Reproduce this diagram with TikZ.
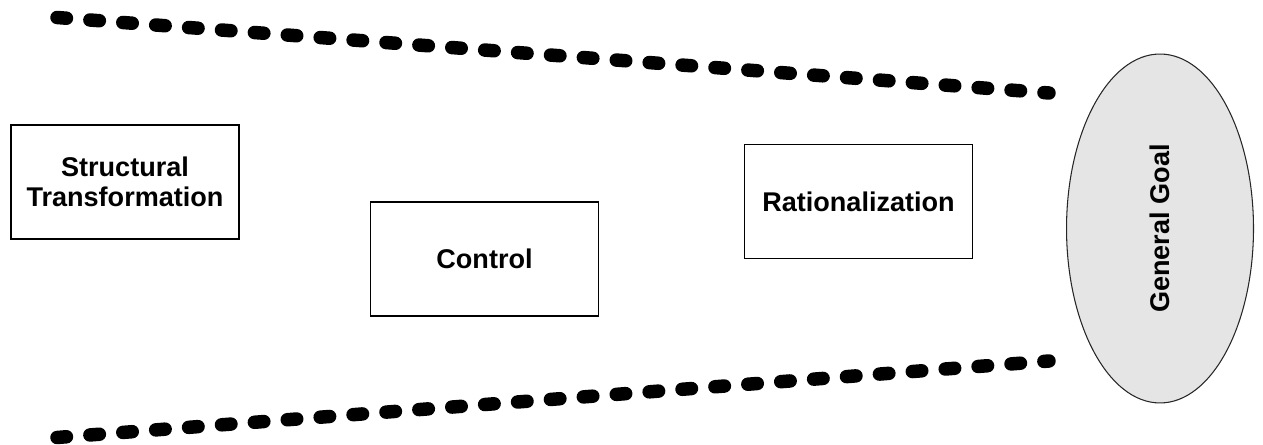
\documentclass[tikz,border=0pt]{standalone}
\usepackage{fontspec}
\setsansfont{Liberation Sans}
\usetikzlibrary{shapes.geometric}

\definecolor{goalgray}{HTML}{E5E5E5}

\begin{document}
\begin{tikzpicture}[
		x = 0.02cm, y = -0.02cm,
		every node/.style = {font=\sffamily\bfseries\fontsize{15.4}{17}\selectfont},
		phase/.style = {draw, line width=0.6pt, minimum width=4.56cm, minimum height=2.28cm, align=center, inner sep=0},
		goal/.style = {draw=black!85, fill=goalgray, line width=0.6pt, ellipse, rotate=90, minimum width=6.98cm, minimum height=3.74cm, inner sep=0},
		funnel/.style = {line width=0.27cm, line cap=round, dash pattern=on 0.19cm off 0.47cm}
	]

	\useasboundingbox (0,0) rectangle (1263,445);

	% ends of the two funnel lines
	\coordinate (ta) at (57,17.5);
	\coordinate (tb) at (1049,93);
	\coordinate (ba) at (57,437.5);
	\coordinate (bb) at (1049,361);

	\draw[funnel] (ta) -- (tb);
	\draw[funnel] (ba) -- (bb);

	\node[phase] (struct) at (125,182) {Structural\\Transformation};
	\node[phase] (control) at (484.5,259) {Control};
	\node[phase] (ratio) at (858.5,201.5) {Rationalization};

	\node[goal] (goal) at (1160,228.5) {General Goal};

\end{tikzpicture}
\end{document}
